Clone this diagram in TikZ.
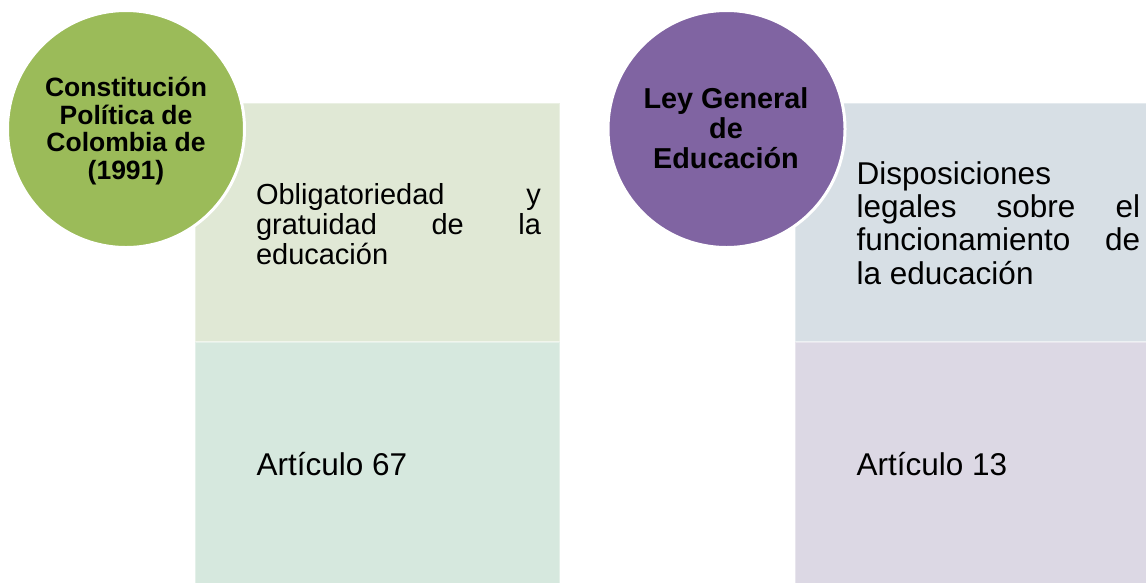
\documentclass[tikz,border=0pt]{standalone}
\usepackage{fontspec}
\setmainfont{Liberation Sans}
\definecolor{cgreen}{HTML}{9BBB59}
\definecolor{cpurple}{HTML}{8064A2}
\definecolor{boxA}{HTML}{E0E8D5}
\definecolor{boxB}{HTML}{D6E8DE}
\definecolor{boxC}{HTML}{D7DFE5}
\definecolor{boxD}{HTML}{DCD8E4}
\tikzset{
  panel/.style={draw=white, draw opacity=0.35, line width=1.5pt},
  disc/.style={circle, draw=white, line width=3pt, minimum size=237pt, inner sep=0pt},
  txt/.style={inner sep=0pt, outer sep=0pt, anchor=base west, text=black},
  ctxt/.style={inner sep=0pt, outer sep=0pt, anchor=base, text=black}
}
\begin{document}
\begin{tikzpicture}[x=1pt,y=-1pt]
\useasboundingbox (0,0) rectangle (1146,582);
\clip (0,0) rectangle (1146,582);
% panels
\path[panel, fill=boxA] (195,103) rectangle (560,342);
\path[panel, fill=boxB] (195,342) rectangle (560,600);
\path[panel, fill=boxC] (795,103) rectangle (1165,342);
\path[panel, fill=boxD] (795,342) rectangle (1165,600);
% circles
\node[disc, fill=cgreen] (c1) at (126,129) {};
\node[disc, fill=cpurple] (c2) at (726.5,129) {};
% circle texts
\node[ctxt] (t1) at (126,96.8) {\parbox[t]{220pt}{\centering\fontsize{26.5pt}{27.4pt}\selectfont\bfseries Constitución\\Política de\\Colombia de\\(1991)}};
\node[ctxt] (t2) at (726,108.3) {\parbox[t]{220pt}{\centering\fontsize{28.8pt}{30pt}\selectfont\bfseries Ley General\\de\\Educación}};
% box texts
\node[txt] (b1) at (256,204) {\parbox[t]{285pt}{\fontsize{29pt}{30.3pt}\selectfont Obligatoriedad\hfill y\\gratuidad\hfill de\hfill la\\educación}};
\node[txt] (b2) at (856.7,184) {\parbox[t]{283.5pt}{\fontsize{31.5pt}{33.4pt}\selectfont Disposiciones\\legales\hfill sobre\hfill el\\funcionamiento\hfill de\\la educación}};
\node[txt] (a1) at (256.5,475.5) {\fontsize{31.5pt}{33.4pt}\selectfont Artículo 67};
\node[txt] (a2) at (856.7,475.3) {\fontsize{31.5pt}{33.4pt}\selectfont Artículo 13};
\end{tikzpicture}
\end{document}
